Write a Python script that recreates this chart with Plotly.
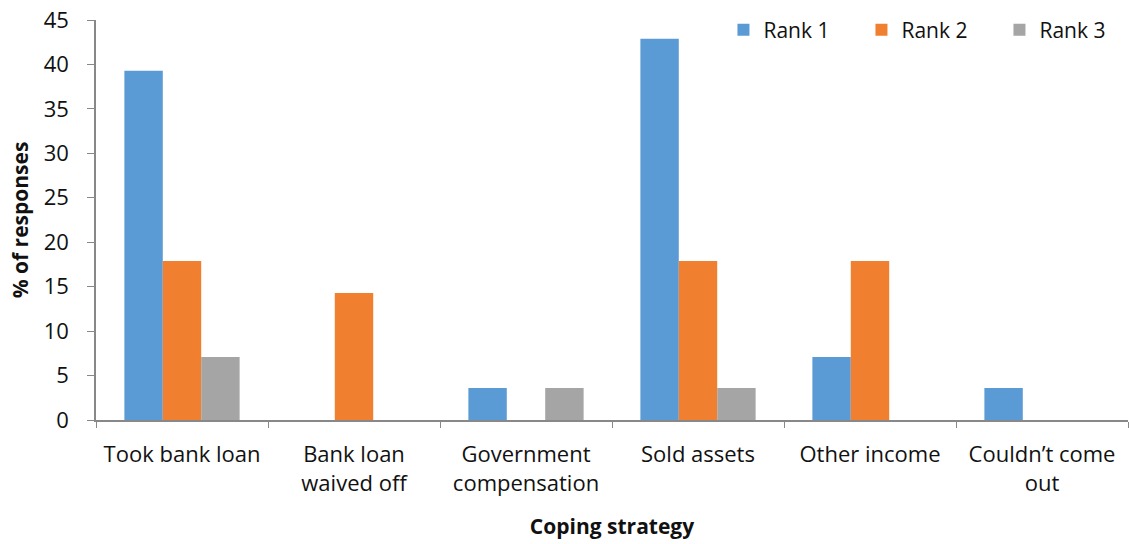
import plotly.graph_objects as go

# Coping strategies and share of responses (%) for each rank
strategies = ["Took bank loan", "Bank loan<br>waived off", "Government<br>compensation",
              "Sold assets", "Other income", "Couldn’t come<br>out"]
rank1 = [39.3, 0, 3.6, 42.9, 7.1, 3.6]
rank2 = [17.9, 14.3, 0, 17.9, 17.9, 0]
rank3 = [7.1, 0, 3.6, 3.6, 0, 0]
series_names = ["Rank 1", "Rank 2", "Rank 3"]
series_colors = ["#5b9bd5", "#f0802f", "#a5a5a5"]
y_ticks = [0, 5, 10, 15, 20, 25, 30, 35, 40, 45]

FONT = "Open Sans"
FS = 22
fig = go.Figure()
for name, vals, col in zip(series_names, [rank1, rank2, rank3], series_colors):
    fig.add_trace(go.Bar(x=strategies, y=vals, name=name, marker=dict(color=col, line=dict(width=0))))

fig.update_layout(
    width=1129, height=544,
    margin=dict(l=96, r=1, t=19.5, b=124, autoexpand=False),
    paper_bgcolor="white", plot_bgcolor="white",
    barmode="group", bargap=0.33, bargroupgap=0,
    font=dict(family=FONT, size=FS, color="#111"),
    legend=dict(orientation="h", x=0.608, xanchor="left", y=0.975, yanchor="middle",
                font=dict(size=FS - 1), itemwidth=30, entrywidth=93, traceorder="normal",
                bgcolor="rgba(0,0,0,0)"),
    showlegend=True,
)
fig.update_xaxes(
    showline=True, linecolor="#888", linewidth=1.5,
    ticks="outside", tickson="boundaries", ticklen=6, tickcolor="#888",
    showgrid=False, ticklabelstandoff=14,
    title=dict(text="<b>Coping strategy</b>", font=dict(size=FS - 1), standoff=24),
    tickfont=dict(size=FS),
)
fig.update_yaxes(
    range=[0, 45], tickvals=y_ticks,
    showline=True, linecolor="#888", linewidth=1.5,
    ticks="outside", ticklen=7, tickcolor="#888",
    showgrid=False, zeroline=False, ticklabelstandoff=14,
    title=dict(text="<b>% of responses</b>", font=dict(size=FS - 1), standoff=9),
    tickfont=dict(size=FS),
)

fig.write_html("out.html")
